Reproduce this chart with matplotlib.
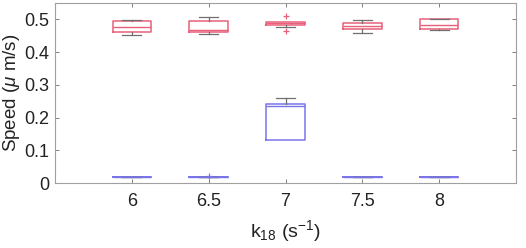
import matplotlib.pyplot as plt

plt.rcParams['font.family'] = ['Liberation Sans', 'DejaVu Sans']
plt.rcParams['mathtext.fontset'] = 'custom'
plt.rcParams['mathtext.rm'] = 'Liberation Sans'
plt.rcParams['mathtext.it'] = 'Liberation Sans:italic'

# k18 values (category labels)
k18_labels = ['6', '6.5', '7', '7.5', '8']

# red series (upper group)
red_whislo = [0.453, 0.456, 0.477, 0.458, 0.467]
red_q1 = [0.460, 0.462, 0.484, 0.472, 0.469]
red_med = [0.477, 0.467, 0.488, 0.481, 0.484]
red_q3 = [0.495, 0.495, 0.491, 0.490, 0.501]
red_whishi = [0.497, 0.506, 0.491, 0.497, 0.502]
red_fliers = [[], [], [0.509, 0.463], [], []]

# blue series (lower group)
blue_whislo = [0.018, 0.018, 0.130, 0.018, 0.018]
blue_q1 = [0.018, 0.018, 0.130, 0.018, 0.018]
blue_med = [0.018, 0.018, 0.234, 0.018, 0.018]
blue_q3 = [0.018, 0.018, 0.241, 0.018, 0.018]
blue_whishi = [0.018, 0.018, 0.261, 0.018, 0.018]
blue_fliers = [[], [0.022], [], [], []]


def make_stats(lo, q1, med, q3, hi, fl):
    return [dict(whislo=a, q1=b, med=c, q3=d, whishi=e, fliers=f)
            for a, b, c, d, e, f in zip(lo, q1, med, q3, hi, fl)]


positions = list(range(1, len(k18_labels) + 1))
red_c = '#e8607a'
blue_c = '#7b74e8'
grey = '#707070'

fig = plt.figure(figsize=(5.26, 2.48), dpi=100)
ax = fig.add_axes([0.1046, 0.262, 0.8764, 0.726])

for stats, col in [(make_stats(red_whislo, red_q1, red_med, red_q3, red_whishi, red_fliers), red_c),
                   (make_stats(blue_whislo, blue_q1, blue_med, blue_q3, blue_whishi, blue_fliers), blue_c)]:
    parts = ax.bxp(stats, positions=positions, widths=0.5, showfliers=True,
                   boxprops=dict(color=col, linewidth=1.1),
                   medianprops=dict(color=col, linewidth=1.0),
                   whiskerprops=dict(color=grey, linewidth=0.9),
                   capprops=dict(color=grey, linewidth=0.9),
                   capwidths=0.25,
                   flierprops=dict(marker='+', markeredgecolor=col, markersize=4, markeredgewidth=0.9))
    # hide caps that sit on the box edge (no whisker there)
    for i, st in enumerate(stats):
        if st['whislo'] == st['q1'] and st['q1'] != st['q3']:
            parts['caps'][2 * i].set_visible(False)
        if st['whishi'] == st['q3'] and st['q1'] != st['q3']:
            parts['caps'][2 * i + 1].set_visible(False)

ax.set_xlim(0, 6)
ax.set_ylim(0, 0.55)
ax.set_xticks(positions)
ax.set_xticklabels(k18_labels)
ax.set_yticks([0, 0.1, 0.2, 0.3, 0.4, 0.5])
ax.set_yticklabels(['0', '0.1', '0.2', '0.3', '0.4', '0.5'])
ax.tick_params(direction='in', length=3, width=0.7, colors='#808080',
               labelcolor='#222222', labelsize=13, top=True, right=True, pad=7)
ax.tick_params(axis='y', pad=4)
for s in ax.spines.values():
    s.set_color('#a0a0a0')
    s.set_linewidth(0.8)

ax.set_xlabel(r'k$_{18}$ (s$^{-1}$)', fontsize=14, color='#222222', labelpad=6)
ax.set_ylabel(r'Speed ($\mu$ m/s)', fontsize=13.5, color='#222222')
ax.yaxis.set_label_coords(-0.071, 0.5)

fig.savefig('out.png', dpi=100)
